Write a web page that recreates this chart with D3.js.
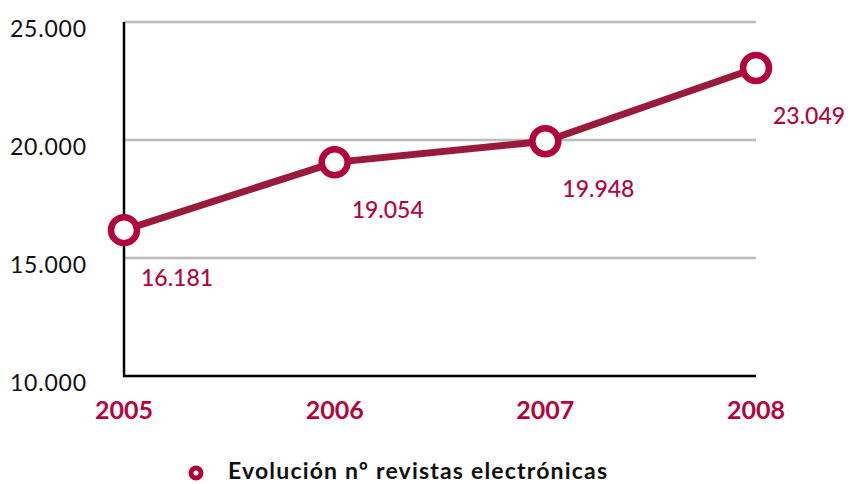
<!DOCTYPE html>
<html>
<head>
<meta charset="utf-8">
<script src="https://cdn.jsdelivr.net/npm/d3@7"></script>
<style>
	body { margin: 0; background: #fff; }
	svg { display: block; font-family: Lato, 'Open Sans', sans-serif; }
</style>
</head>
<body>
<div id="chart"></div>
<script>
const years = ['2005', '2006', '2007', '2008']
const revistas = [16181, 19054, 19948, 23049]
const yTicks = [10000, 15000, 20000, 25000]
const seriesName = 'Evolución nº revistas electrónicas'

const width = 852
const height = 484
const crimson = '#b3053d'
const lineColor = '#9a1a3b'

const fmt = d => d3.format(',')(d).replace(/,/g, '.')

const svg = d3
	.select('#chart')
	.append('svg')
	.attr('width', width)
	.attr('height', height)

const x = d3.scalePoint().domain(years).range([124, 756])
const y = d3.scaleLinear().domain([10000, 25000]).range([376, 22])

// gridlines
svg.append('g')
	.selectAll('line')
	.data(yTicks.filter(d => d > 10000))
	.enter()
	.append('line')
	.attr('x1', 124)
	.attr('x2', 756)
	.attr('y1', d => y(d))
	.attr('y2', d => y(d))
	.attr('stroke', '#bdbdbd')
	.attr('stroke-width', 2.5)

// y tick labels
svg.append('g')
	.selectAll('text')
	.data(yTicks)
	.enter()
	.append('text')
	.attr('x', 10)
	.attr('y', d => y(d) + 15)
	.attr('font-size', 23)
	.attr('textLength', 76)
	.attr('fill', '#111')
	.text(fmt)

// axes
svg.append('line')
	.attr('x1', 124).attr('x2', 124)
	.attr('y1', 22).attr('y2', 377)
	.attr('stroke', '#000').attr('stroke-width', 2.5)
svg.append('line')
	.attr('x1', 123).attr('x2', 756)
	.attr('y1', 376).attr('y2', 376)
	.attr('stroke', '#000').attr('stroke-width', 2.5)

// x tick labels
svg.append('g')
	.selectAll('text')
	.data(years)
	.enter()
	.append('text')
	.attr('x', d => x(d))
	.attr('y', 419)
	.attr('text-anchor', 'middle')
	.attr('font-size', 25)
	.attr('font-weight', 'bold')
	.attr('fill', crimson)
	.text(d => d)

const data = years.map((yr, i) => ({ year: yr, value: revistas[i] }))

svg.append('path')
	.datum(data)
	.attr('fill', 'none')
	.attr('stroke', lineColor)
	.attr('stroke-width', 7)
	.attr('d', d3.line().x(d => x(d.year)).y(d => y(d.value)))

svg.append('g')
	.selectAll('circle')
	.data(data)
	.enter()
	.append('circle')
	.attr('cx', d => x(d.year))
	.attr('cy', d => y(d.value))
	.attr('r', 13)
	.attr('fill', '#fff')
	.attr('stroke', crimson)
	.attr('stroke-width', 6.5)

// value labels
svg.append('g')
	.selectAll('text')
	.data(data)
	.enter()
	.append('text')
	.attr('x', d => x(d.year) + 17)
	.attr('y', d => y(d.value) + 56)
	.attr('font-size', 23)
	.attr('font-weight', 500)
	.attr('fill', crimson)
	.text(d => fmt(d.value))

// legend
const legend = svg.append('g')
legend.append('circle')
	.attr('cx', 196)
	.attr('cy', 473)
	.attr('r', 5)
	.attr('fill', '#fff')
	.attr('stroke', crimson)
	.attr('stroke-width', 5)
legend.append('text')
	.attr('x', 228)
	.attr('y', 479)
	.attr('font-size', 23)
	.attr('font-weight', 'bold')
	.attr('textLength', 379)
	.attr('fill', '#111')
	.text(seriesName)
</script>
</body>
</html>
